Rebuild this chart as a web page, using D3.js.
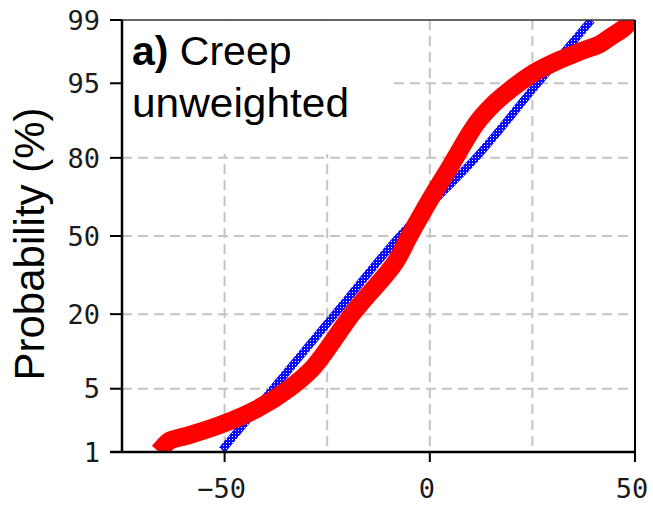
<!DOCTYPE html>
<html>
<head>
<meta charset="utf-8">
<script src="https://cdn.jsdelivr.net/npm/d3@7"></script>
<style>
  html, body { margin: 0; padding: 0; background: #fff; }
  svg { display: block; }
</style>
</head>
<body>
<svg id="chart" width="653" height="510"></svg>
<script>
// ---- data ----
const xTicks = [-50, 0, 50];
const xTickLabels = ["\u221250", "0", "50"];
const xGrid = [-50, -25, 0, 25];
const yTicks = [1, 5, 20, 50, 80, 95, 99];
const yTickLabels = ["1", "5", "20", "50", "80", "95", "99"];
const yGrid = [5, 20, 50, 80, 95];

// empirical sample (red): creep value, cumulative probability (%)
const redX = [-64.6, -63.4, -58.4, -50.4, -42.1, -34.1, -28.5, -18.7, -8.5, -5.1, 0.0, 4.9, 6.3, 11.4, 15.8, 19.5, 25.1, 31.6, 37.2, 41.4, 44.3, 47.0, 48.7];
const redP = [1.22, 1.37, 1.61, 2.15, 3.13, 5.09, 7.77, 20.4, 38.6, 49.6, 65.1, 77.1, 80.2, 88.8, 92.4, 94.2, 96.0, 97.1, 97.7, 98.06, 98.43, 98.71, 98.94];

// normal reference (blue)
const blueX = [-50.6, -23.1, -7.3, 11.2, 26.3, 39.4];
const blueP = [1.06, 20, 50, 80, 95, 99];

const titleBold = "a)";
const titleLine1 = " Creep";
const titleLine2 = "unweighted";
const yLabel = "Probability (%)";

// ---- helpers ----
function probit(p) {
  // Acklam's inverse normal CDF approximation
  const a = [-3.969683028665376e+01, 2.209460984245205e+02, -2.759285104469687e+02, 1.383577518672690e+02, -3.066479806614716e+01, 2.506628277459239e+00];
  const b = [-5.447609879822406e+01, 1.615858368580409e+02, -1.556989798598866e+02, 6.680131188771972e+01, -1.328068155288572e+01];
  const c = [-7.784894002430293e-03, -3.223964580411365e-01, -2.400758277161838e+00, -2.549732539343734e+00, 4.374664141464968e+00, 2.938163982698783e+00];
  const d = [7.784695709041462e-03, 3.224671290700398e-01, 2.445134137142996e+00, 3.754408661907416e+00];
  const pl = 0.02425, ph = 1 - pl;
  let q, r;
  if (p < pl) {
    q = Math.sqrt(-2 * Math.log(p));
    return (((((c[0]*q+c[1])*q+c[2])*q+c[3])*q+c[4])*q+c[5]) / ((((d[0]*q+d[1])*q+d[2])*q+d[3])*q+1);
  } else if (p <= ph) {
    q = p - 0.5; r = q * q;
    return (((((a[0]*r+a[1])*r+a[2])*r+a[3])*r+a[4])*r+a[5])*q / (((((b[0]*r+b[1])*r+b[2])*r+b[3])*r+b[4])*r+1);
  } else {
    q = Math.sqrt(-2 * Math.log(1 - p));
    return -(((((c[0]*q+c[1])*q+c[2])*q+c[3])*q+c[4])*q+c[5]) / ((((d[0]*q+d[1])*q+d[2])*q+d[3])*q+1);
  }
}

// ---- layout ----
const L = 122, R = 635, T = 20, B = 452;
const svg = d3.select("#chart");

const x = d3.scaleLinear().domain([-75, 50]).range([L, R]);
const yz = d3.scaleLinear().domain([probit(0.01), probit(0.99)]).range([B, T]);
const y = p => yz(probit(p / 100));

const defs = svg.append("defs");
const pat = defs.append("pattern").attr("id", "hatch")
  .attr("width", 3).attr("height", 3).attr("patternUnits", "userSpaceOnUse");
pat.append("rect").attr("width", 3).attr("height", 3).attr("fill", "#0a0aff");
pat.append("rect").attr("x", 1).attr("y", 1).attr("width", 1).attr("height", 1).attr("fill", "#ffffff");

defs.append("clipPath").attr("id", "plotclip").append("rect")
  .attr("x", L).attr("y", T).attr("width", R - L).attr("height", B - T);

// grid
const grid = svg.append("g").attr("stroke", "#c4c4c4").attr("stroke-width", 2)
  .attr("stroke-dasharray", "10,6");
grid.selectAll("line.v").data(xGrid).join("line").attr("class", "v")
  .attr("x1", d => x(d)).attr("x2", d => x(d)).attr("y1", T).attr("y2", B);
grid.selectAll("line.h").data(yGrid).join("line").attr("class", "h")
  .attr("x1", L).attr("x2", R).attr("y1", d => y(d)).attr("y2", d => y(d));

// white box behind title
svg.append("rect").attr("x", L + 1).attr("y", T + 1).attr("width", 270).attr("height", 133).attr("fill", "#fff");

// title
const title = svg.append("text").attr("x", 132).attr("y", 65)
  .attr("font-family", "Liberation Sans, Arial, sans-serif").attr("font-size", 41).attr("fill", "#000");
title.append("tspan").attr("font-weight", "bold").text(titleBold);
title.append("tspan").text(titleLine1);
svg.append("text").attr("x", 132).attr("y", 117)
  .attr("font-family", "Liberation Sans, Arial, sans-serif").attr("font-size", 41).attr("fill", "#000")
  .attr("textLength", 217).attr("lengthAdjust", "spacingAndGlyphs")
  .text(titleLine2);

const plot = svg.append("g").attr("clip-path", "url(#plotclip)");

// blue normal reference band
const blueData = blueX.map((v, i) => [v, blueP[i]]);
plot.append("path").datum(blueData)
  .attr("d", d3.line().x(d => x(d[0])).y(d => y(d[1])).curve(d3.curveCatmullRom))
  .attr("fill", "none").attr("stroke", "url(#hatch)").attr("stroke-width", 8);

// red empirical band
const redData = redX.map((v, i) => [v, redP[i]]);
plot.append("path").datum(redData)
  .attr("d", d3.line().x(d => x(d[0])).y(d => y(d[1])).curve(d3.curveCatmullRom))
  .attr("fill", "none").attr("stroke", "#ff0000").attr("stroke-width", 18)
  .attr("stroke-linecap", "square").attr("stroke-linejoin", "round");

// frame
svg.append("line").attr("x1", L - 12).attr("x2", R).attr("y1", T).attr("y2", T)
  .attr("stroke", "#333").attr("stroke-width", 1.5);
svg.append("line").attr("x1", R).attr("x2", R).attr("y1", T).attr("y2", B)
  .attr("stroke", "#000").attr("stroke-width", 2);
svg.append("line").attr("x1", L).attr("x2", L).attr("y1", T).attr("y2", B)
  .attr("stroke", "#000").attr("stroke-width", 2.5);
svg.append("line").attr("x1", L - 12).attr("x2", R).attr("y1", B).attr("y2", B)
  .attr("stroke", "#000").attr("stroke-width", 2.5);

// y ticks + labels
const yAx = svg.append("g");
yAx.selectAll("line").data(yTicks).join("line")
  .attr("x1", L - 12).attr("x2", L).attr("y1", d => y(d)).attr("y2", d => y(d))
  .attr("stroke", "#000").attr("stroke-width", 2);
yAx.selectAll("text").data(yTicks).join("text")
  .attr("x", 100).attr("y", d => y(d)).attr("dy", "0.36em")
  .attr("text-anchor", "end")
  .attr("font-family", "DejaVu Sans Mono, monospace").attr("font-size", 27).attr("fill", "#1a1a1a")
  .text((d, i) => yTickLabels[i]);

// x ticks + labels
const xAx = svg.append("g");
xAx.selectAll("line").data(xTicks).join("line")
  .attr("x1", d => x(d)).attr("x2", d => x(d)).attr("y1", B).attr("y2", B + 10)
  .attr("stroke", "#000").attr("stroke-width", 2);
xAx.selectAll("text").data(xTicks).join("text")
  .attr("x", d => x(d) - 3).attr("y", 498)
  .attr("text-anchor", "middle")
  .attr("font-family", "DejaVu Sans Mono, monospace").attr("font-size", 27).attr("fill", "#1a1a1a")
  .text((d, i) => xTickLabels[i]);

// y label
svg.append("text")
  .attr("transform", "translate(44,244) rotate(-90)")
  .attr("text-anchor", "middle")
  .attr("font-family", "Liberation Sans, Arial, sans-serif").attr("font-size", 42).attr("fill", "#000")
  .text(yLabel);
</script>
</body>
</html>
